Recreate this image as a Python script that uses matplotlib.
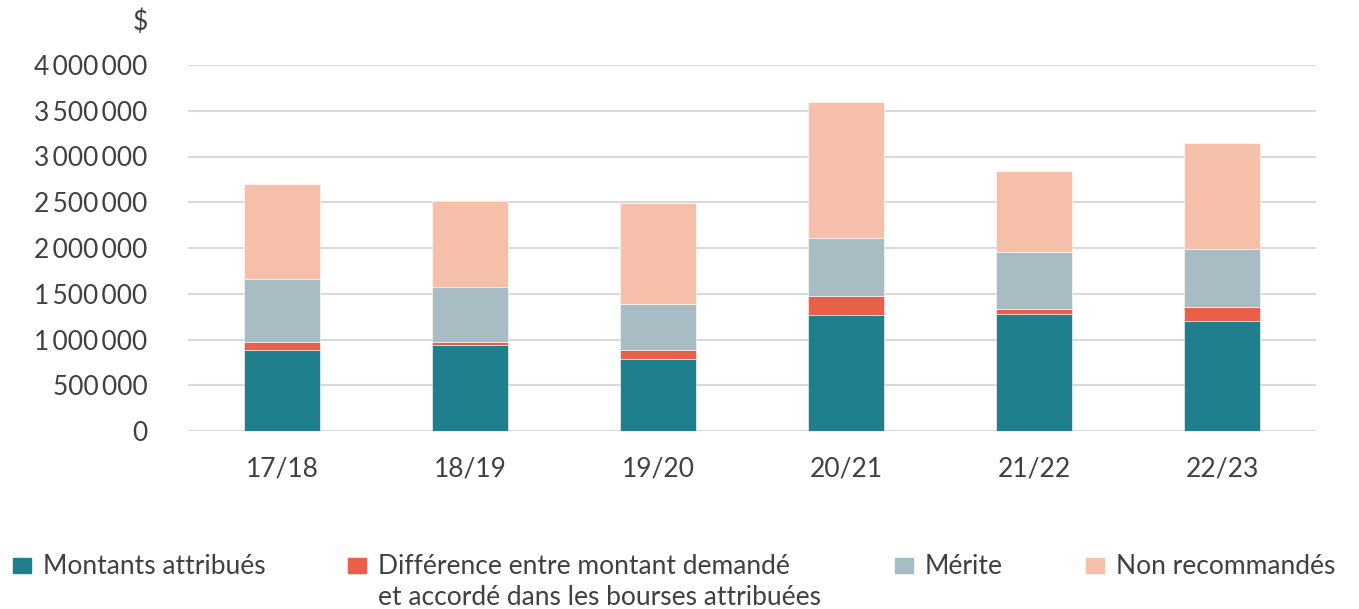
import matplotlib
matplotlib.use("Agg")
import matplotlib.pyplot as plt
from matplotlib.patches import Rectangle
from matplotlib.ticker import FuncFormatter, MultipleLocator

plt.rcParams['font.family'] = ['Lato', 'DejaVu Sans']

years = ["17/18", "18/19", "19/20", "20/21", "21/22", "22/23"]
montants = [890000, 943000, 791000, 1271000, 1275000, 1206000]
difference = [83000, 30000, 98000, 208000, 62000, 153000]
merite = [692000, 604000, 502000, 634000, 623000, 634000]
non_recommandes = [1035000, 937000, 1101000, 1487000, 882000, 1158000]

labels = ["Montants attribués",
          "Différence entre montant demandé\net accordé dans les bourses attribuées",
          "Mérite",
          "Non recommandés"]
colors = ["#1f7f8c", "#e95f47", "#a7bcc3", "#f6bfaa"]
text_color = "#404040"

W, H = 1359, 609
fig = plt.figure(figsize=(W / 100, H / 100), dpi=100)
ax = fig.add_axes([188 / W, 1 - 431 / H, 1128 / W, 366 / H])

x = range(len(years))
bottom = [0] * len(years)
for series, color, label in zip([montants, difference, merite, non_recommandes], colors, labels):
    ax.bar(x, series, bottom=bottom, width=0.4, color=color,
           edgecolor="white", linewidth=0.4, label=label, zorder=3)
    bottom = [b0 + s for b0, s in zip(bottom, series)]

ax.set_xlim(-0.5, len(years) - 0.5)
ax.set_ylim(0, 4000000)
ax.yaxis.set_major_locator(MultipleLocator(500000))
ax.yaxis.set_major_formatter(FuncFormatter(lambda v, p: f"{int(v):,}".replace(",", "\u2009")))
ax.set_xticks(list(x))
ax.set_xticklabels(years)
ax.grid(axis="y", color="#d9d9d9", linewidth=1.5, zorder=0)
for s in ax.spines.values():
    s.set_visible(False)
ax.tick_params(axis="both", length=0, labelsize=19, labelcolor=text_color)
ax.tick_params(axis="y", pad=29)
ax.tick_params(axis="x", pad=18)

fig.text(148 / W, 1 - 22 / H, "$", ha="right", va="center", fontsize=19, color=text_color)

# legend drawn by hand: square + label for each series
legend_x = [13, 348, 895, 1086]
for lx, color, label in zip(legend_x, colors, labels):
    fig.patches.append(Rectangle((lx / W, 1 - 573 / H), 18 / W, 15 / H,
                                 transform=fig.transFigure, color=color))
    fig.text((lx + 30) / W, 1 - 554 / H, label, ha="left", va="top",
             fontsize=19, color=text_color, linespacing=1.32)

fig.savefig("out.png", dpi=100)
